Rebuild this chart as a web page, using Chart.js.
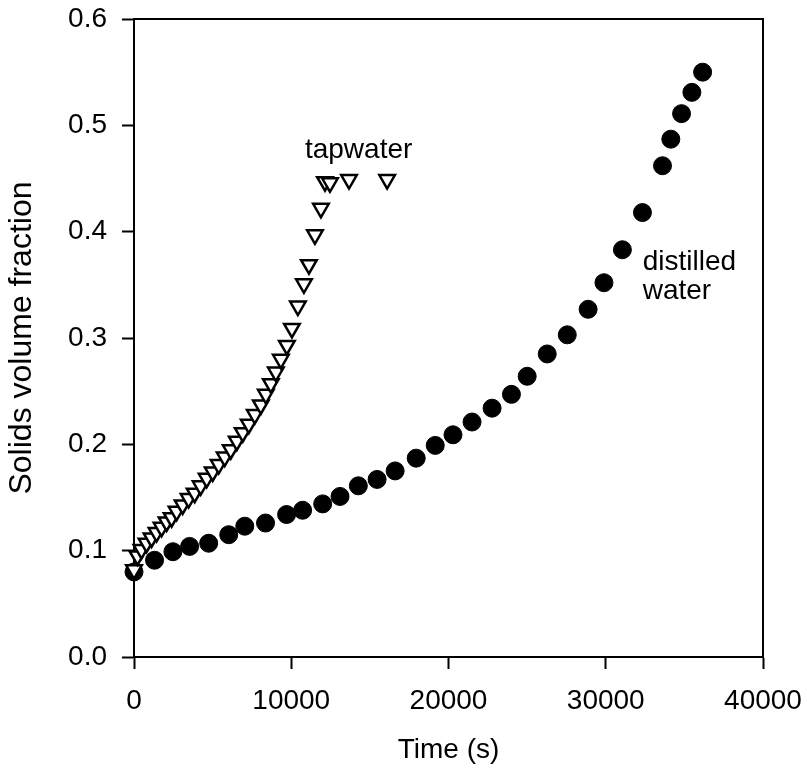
<!DOCTYPE html>
<html>
<head>
<meta charset="utf-8">
<title>Solids volume fraction vs time</title>
<script src="https://cdn.jsdelivr.net/npm/chart.js@4.4.0/dist/chart.umd.min.js"></script>
<style>
    body { margin: 0; background: #fff; }
</style>
</head>
<body>
<canvas id="myChart" width="807" height="770"></canvas>
<script>
// distilled water (filled circles)
const distilledTime = [0, 1307, 2474, 3538, 4749, 6024, 7044, 8364, 9703, 10723, 11998, 13101, 14267, 15459, 16607, 17946, 19157, 20285, 21497, 22772, 24002, 25003, 26278, 27553, 28879, 29886, 31059, 32334, 33609, 34138, 34820, 35477, 36159];
const distilledFraction = [0.080, 0.091, 0.099, 0.104, 0.107, 0.115, 0.123, 0.126, 0.134, 0.138, 0.144, 0.151, 0.161, 0.167, 0.175, 0.187, 0.199, 0.209, 0.221, 0.234, 0.247, 0.264, 0.285, 0.303, 0.327, 0.352, 0.383, 0.418, 0.462, 0.487, 0.511, 0.531, 0.550];

// tapwater (open down triangles)
const tapTime = [0, 223, 478, 797, 1116, 1434, 1753, 2072, 2391, 2709, 3092, 3474, 3857, 4239, 4622, 5004, 5387, 5769, 6152, 6534, 6917, 7299, 7682, 8064, 8383, 8702, 9021, 9339, 9722, 10041, 10423, 10806, 11124, 11507, 11889, 12144, 12463, 13674, 16097];
const tapFraction = [0.082, 0.095, 0.101, 0.107, 0.112, 0.117, 0.122, 0.127, 0.131, 0.137, 0.143, 0.149, 0.154, 0.161, 0.168, 0.174, 0.181, 0.188, 0.195, 0.203, 0.211, 0.219, 0.228, 0.237, 0.247, 0.257, 0.268, 0.280, 0.293, 0.309, 0.330, 0.351, 0.369, 0.397, 0.422, 0.447, 0.446, 0.449, 0.449];

// axis ticks
const xTicks = [0, 10000, 20000, 30000, 40000];
const yTicks = [0.0, 0.1, 0.2, 0.3, 0.4, 0.5, 0.6];

// text labels inside the plot
const noteText = ["tapwater", "distilled", "water"];
const noteX = [10870, 32350, 32350];
const noteY = [0.477, 0.371, 0.344];

const fontFamily = "'Liberation Sans', Arial, sans-serif";

function toPoints(xs, ys) {
    return xs.map((x, i) => ({ x: x, y: ys[i] }));
}

// box round the plot and the labels
const boxAndNotes = {
    id: 'boxAndNotes',
    afterDraw(chart) {
        const ctx = chart.ctx;
        const a = chart.chartArea;
        ctx.save();
        ctx.strokeStyle = '#000';
        ctx.lineWidth = 2;
        ctx.beginPath();
        ctx.moveTo(a.left, a.top);
        ctx.lineTo(a.right, a.top);
        ctx.lineTo(a.right, a.bottom);
        ctx.stroke();

        ctx.fillStyle = '#000';
        ctx.font = `28px ${fontFamily}`;
        ctx.textAlign = 'left';
        ctx.textBaseline = 'middle';
        noteText.forEach((t, i) => {
            ctx.fillText(t, chart.scales.x.getPixelForValue(noteX[i]), chart.scales.y.getPixelForValue(noteY[i]));
        });
        ctx.restore();
    }
};

const config = {
    type: 'scatter',
    data: {
        datasets: [
            {
                label: 'tapwater',
                data: toPoints(tapTime, tapFraction),
                pointStyle: 'triangle',
                rotation: 180,
                pointRadius: 9,
                borderWidth: 2.5,
                borderColor: '#000',
                backgroundColor: '#fff',
                order: 0,
                clip: false
            },
            {
                label: 'distilled water',
                data: toPoints(distilledTime, distilledFraction),
                pointStyle: 'circle',
                pointRadius: 9,
                borderWidth: 1,
                borderColor: '#000',
                backgroundColor: '#000',
                order: 1,
                clip: false
            }
        ]
    },
    options: {
        responsive: false,
        animation: false,
        layout: {
            padding: { top: 19, right: 44, left: 0, bottom: 0 }
        },
        plugins: {
            legend: { display: false },
            tooltip: { enabled: false }
        },
        scales: {
            x: {
                type: 'linear',
                min: 0,
                max: 40000,
                afterBuildTicks: (scale) => { scale.ticks = xTicks.map(v => ({ value: v })); },
                afterFit: (scale) => {
                    scale.height = 113;
                    scale.paddingLeft = 0;
                    scale.paddingRight = 0;
                },
                border: { color: '#000', width: 2 },
                grid: { drawOnChartArea: false, drawTicks: true, tickLength: 12, tickWidth: 2, tickColor: '#000' },
                ticks: {
                    color: '#000',
                    padding: 15,
                    maxRotation: 0,
                    font: { family: fontFamily, size: 28 },
                    callback: (v) => String(v)
                },
                title: {
                    display: true,
                    text: 'Time (s)',
                    color: '#000',
                    padding: { top: 0, bottom: 3 },
                    font: { family: fontFamily, size: 28 }
                }
            },
            y: {
                type: 'linear',
                min: 0,
                max: 0.6,
                afterBuildTicks: (scale) => { scale.ticks = yTicks.map(v => ({ value: v })); },
                afterFit: (scale) => {
                    scale.width = 134;
                    scale.paddingTop = 0;
                    scale.paddingBottom = 0;
                },
                border: { color: '#000', width: 2 },
                grid: { drawOnChartArea: false, drawTicks: true, tickLength: 12, tickWidth: 2, tickColor: '#000' },
                ticks: {
                    color: '#000',
                    padding: 15,
                    font: { family: fontFamily, size: 28 },
                    callback: (v) => Number(v).toFixed(1)
                },
                title: {
                    display: true,
                    text: 'Solids volume fraction',
                    color: '#000',
                    padding: { top: 3, bottom: 0 },
                    font: { family: fontFamily, size: 32 }
                }
            }
        }
    },
    plugins: [boxAndNotes]
};

const myChart = new Chart(document.getElementById('myChart'), config);
</script>
</body>
</html>
